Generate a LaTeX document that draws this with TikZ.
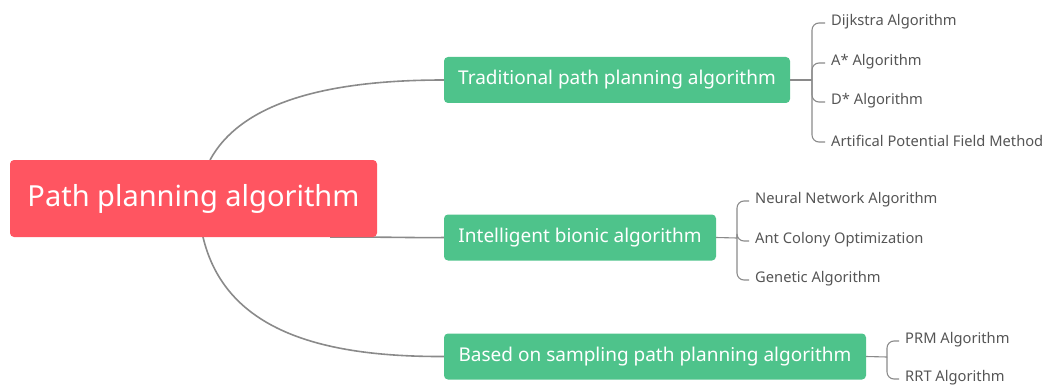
\documentclass[tikz,border=0pt]{standalone}
\usepackage{fontspec}
\setmainfont{Noto Sans}
\definecolor{rootred}{HTML}{FF5561}
\definecolor{boxgreen}{HTML}{4EC38B}
\definecolor{leafgray}{HTML}{555555}
\definecolor{linegray}{HTML}{8A8A8A}
\begin{document}
\begin{tikzpicture}[x=1pt,y=-1pt,
  rootbox/.style={fill=rootred,rounded corners=4pt,text=white,inner sep=0pt,font=\fontsize{29}{34}\selectfont},
  catbox/.style={fill=boxgreen,rounded corners=4pt,text=white,inner sep=0pt,minimum height=46pt,font=\fontsize{19}{23}\selectfont},
  leaf/.style={anchor=west,text=leafgray,inner sep=0pt,font=\fontsize{14.7}{17}\selectfont},
  conn/.style={draw=linegray,line width=1.6pt},
  brk/.style={draw=linegray,line width=1.1pt,rounded corners=7pt}]
\useasboundingbox (0,0) rectangle (1046,385);
% main connectors
\coordinate (r1) at (210,160);
\coordinate (r2) at (330,237);
\coordinate (r3) at (203,237);
\node[catbox,minimum width=346pt] (trad) at (617,80) {Traditional path planning algorithm};
\node[catbox,minimum width=272pt] (intel) at (580,237.5) {Intelligent bionic algorithm};
\node[catbox,minimum width=422pt] (samp) at (655,356.5) {Based on sampling path planning algorithm};
\draw[conn] (r1) .. controls (240,105) and (320,80) .. (trad.west);
\draw[conn] (r2) .. controls (400,237) and (420,238) .. (intel.west);
\draw[conn] (r3) .. controls (225,330) and (320,357) .. (samp.west);
\node[rootbox,minimum width=367pt,minimum height=77pt] (root) at (193.5,198.5) {Path planning algorithm};
% leaves
\node[leaf] (l1) at (831,22) {Dijkstra Algorithm};
\node[leaf] (l2) at (831,62) {A* Algorithm};
\node[leaf] (l3) at (831,101) {D* Algorithm};
\node[leaf] (l4) at (831,141) {Artifical Potential Field Method};
\node[leaf] (m1) at (755,200) {Neural Network Algorithm};
\node[leaf] (m2) at (755,240) {Ant Colony Optimization};
\node[leaf] (m3) at (755,279) {Genetic Algorithm};
\node[leaf] (n1) at (905,340) {PRM Algorithm};
\node[leaf] (n2) at (905,378) {RRT Algorithm};
% brackets
\coordinate (bt) at (812,80);
\coordinate (bi) at (737,238);
\coordinate (bs) at (887,357);
\draw[brk] (trad.east) -- (bt);
\foreach \c in {l1,l2,l3,l4} \draw[brk] (bt) |- ([xshift=-6pt,yshift=-1pt]\c.west);
\draw[brk] (intel.east) -- (bi);
\foreach \c in {m1,m2,m3} \draw[brk] (bi) |- ([xshift=-6pt,yshift=-1pt]\c.west);
\draw[brk] (samp.east) -- (bs);
\foreach \c in {n1,n2} \draw[brk] (bs) |- ([xshift=-6pt,yshift=-1pt]\c.west);
\end{tikzpicture}
\end{document}
